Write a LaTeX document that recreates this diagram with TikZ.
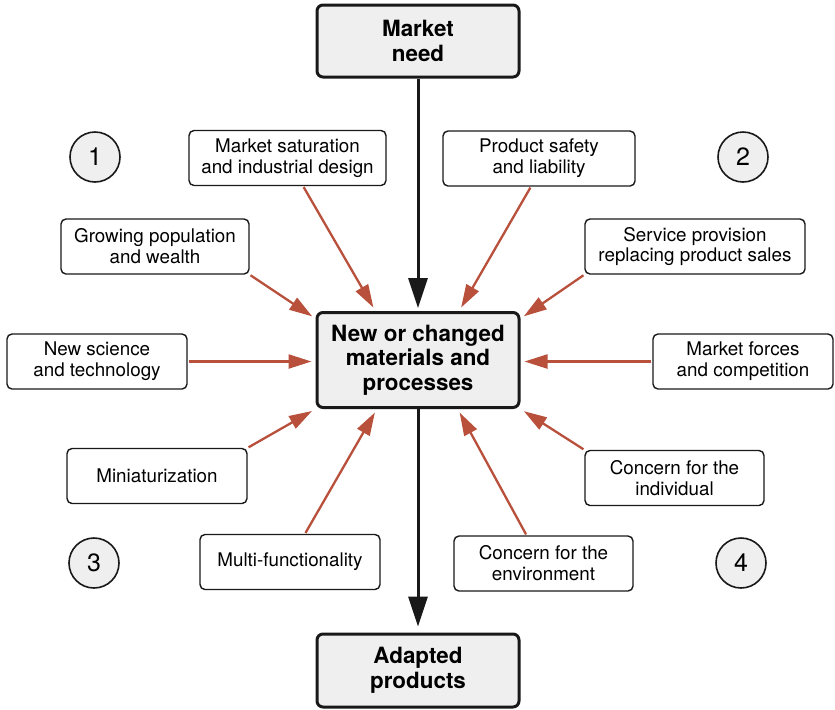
\documentclass[tikz,border=0pt]{standalone}
\usepackage{fontspec}
\setmainfont{TeX Gyre Heros}
\usepackage{xcolor}
\usepackage{tikz}
\usetikzlibrary{arrows.meta}
\definecolor{arrowred}{RGB}{184,80,60}
\definecolor{boxgray}{RGB}{239,239,239}

\begin{document}
\begin{tikzpicture}[
    x=0.5pt, y=-0.5pt,
    mainbox/.style={draw=black!90, line width=1.5pt, rounded corners=3pt, fill=boxgray, align=center, inner sep=0pt, minimum width=101pt, font=\fontsize{11.2}{12.3}\selectfont\bfseries},
    factor/.style={draw=black!90, line width=0.7pt, rounded corners=2.5pt, fill=white, align=center, inner sep=0pt, minimum height=27.5pt, font=\fontsize{9.4}{10.4}\selectfont},
    number/.style={circle, draw=black!90, line width=0.8pt, fill=boxgray, minimum size=25pt, inner sep=0pt, font=\fontsize{12.5}{12.5}\selectfont},
    flow/.style={-{Triangle[length=15pt, width=9.5pt]}, line width=1.5pt, black!90},
    push/.style={-{Triangle[length=11.5pt, width=7pt]}, line width=1.15pt, arrowred, shorten <=0.5pt, shorten >=2pt}
]
    \useasboundingbox (0,0) rectangle (835,709);

    % Catena principale
    \node[mainbox, minimum height=36pt] (need) at (418,41) {Market\\need};
    \node[mainbox, minimum height=47.5pt] (core) at (418,360) {New or changed\\materials and\\processes};
    \node[mainbox, minimum height=36.5pt] (adapt) at (418,670.5) {Adapted\\products};
    \draw[flow, shorten >=1.5pt] (need) -- (core);
    \draw[flow, shorten >=3pt] (core) -- (adapt);

    % Numeri dei quadranti
    \node[number] (q1) at (95,157) {1};
    \node[number] (q2) at (743,157) {2};
    \node[number] (q3) at (94,563) {3};
    \node[number] (q4) at (741,563) {4};

    % Fattori (sinistra)
    \node[factor, minimum width=98.5pt] (sat) at (287.5,158) {Market saturation\\and industrial design};
    \node[factor, minimum width=94pt] (grow) at (155,246.5) {Growing population\\and wealth};
    \node[factor, minimum width=90pt] (sci) at (97,361.5) {New science\\and technology};
    \node[factor, minimum width=90pt] (mini) at (157,476) {Miniaturization};
    \node[factor, minimum width=90pt] (multi) at (290,562) {Multi-functionality};

    % Fattori (destra)
    \node[factor, minimum width=96pt] (safe) at (539,158.5) {Product safety\\and liability};
    \node[factor, minimum width=110pt] (serv) at (695,246.5) {Service provision\\replacing product sales};
    \node[factor, minimum width=90pt] (force) at (743,361.5) {Market forces\\and competition};
    \node[factor, minimum width=89.5pt] (indiv) at (674.5,478) {Concern for the\\individual};
    \node[factor, minimum width=89.5pt] (env) at (543.5,563.5) {Concern for the\\environment};

    % Frecce verso il centro
    \draw[push] (sat.-61) -- (core.131);
    \draw[push] (safe.-106) -- (core.50);
    \draw[push] (grow.south east) -- (core.158);
    \draw[push] (serv.south west) -- (core.22);
    \draw[push] (sci.east) -- (sci.east -| core.west);
    \draw[push] (force.west) -- (force.west -| core.east);
    \draw[push] (mini.north east) -- (core.south west);
    \draw[push] (indiv.north west) -- (core.south east);
    \draw[push] (multi.62) -- (core.-130);
    \draw[push] (env.121) -- (core.-51.5);

\end{tikzpicture}
\end{document}
